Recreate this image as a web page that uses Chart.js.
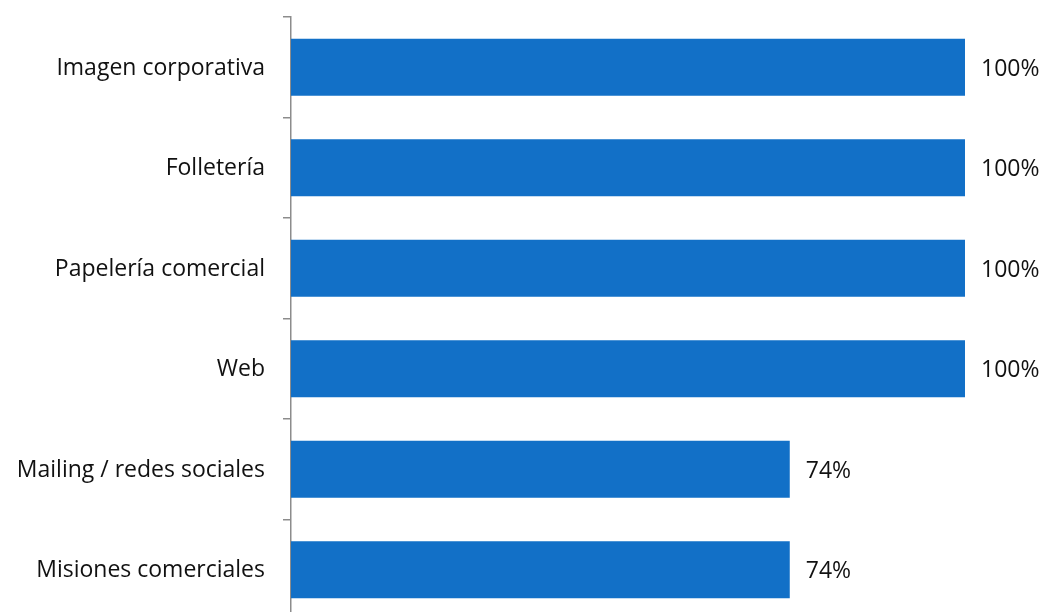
<!DOCTYPE html>
<html>
<head>
<meta charset="utf-8">
<script src="https://cdn.jsdelivr.net/npm/chart.js@4/dist/chart.umd.min.js"></script>
<style>
  html, body { margin: 0; padding: 0; background: #fff; overflow: hidden; }
  #wrap { width: 1043px; height: 620px; }
</style>
</head>
<body>
<div id="wrap"><canvas id="c" width="1043" height="620"></canvas></div>
<script>
const categories = [
  'Imagen corporativa',
  'Folletería',
  'Papelería comercial',
  'Web',
  'Mailing / redes sociales',
  'Misiones comerciales'
];
const values = [100, 100, 100, 100, 74, 74];

const FONT_FAMILY = '"Open Sans", Lato, sans-serif';
const FONT_SIZE = 23;

// Writes "NN%" just past the end of each bar
const valueLabels = {
  id: 'valueLabels',
  afterDatasetsDraw(chart) {
    const ctx = chart.ctx;
    const meta = chart.getDatasetMeta(0);
    ctx.save();
    ctx.font = FONT_SIZE + 'px ' + FONT_FAMILY;
    ctx.fillStyle = '#111';
    ctx.textAlign = 'left';
    ctx.textBaseline = 'middle';
    meta.data.forEach((bar, i) => {
      ctx.fillText(values[i] + '%', bar.x + 16, bar.y + 2);
    });
    ctx.restore();
  }
};

new Chart(document.getElementById('c'), {
  type: 'bar',
  data: {
    labels: categories,
    datasets: [{
      data: values,
      backgroundColor: '#1270C7',
      borderWidth: 0,
      barPercentage: 0.567,
      categoryPercentage: 1
    }]
  },
  options: {
    indexAxis: 'y',
    responsive: false,
    animation: false,
    layout: { padding: { top: 17, right: 78, bottom: 0, left: 0 } },
    plugins: { legend: { display: false }, tooltip: { enabled: false } },
    scales: {
      x: { display: false, min: 0, max: 100 },
      y: {
        afterFit(scale) {
          scale.width = 291;
          scale.paddingTop = 0;
          scale.paddingBottom = 0;
        },
        border: { display: true, color: '#8c8c8c', width: 1.5 },
        grid: {
          offset: true,
          drawOnChartArea: false,
          drawTicks: true,
          tickLength: 8,
          color: '#8c8c8c',
          lineWidth: 1.5
        },
        ticks: {
          padding: 18,
          labelOffset: 1,
          color: '#111',
          font: { family: FONT_FAMILY, size: FONT_SIZE }
        }
      }
    }
  },
  plugins: [valueLabels]
});
</script>
</body>
</html>
